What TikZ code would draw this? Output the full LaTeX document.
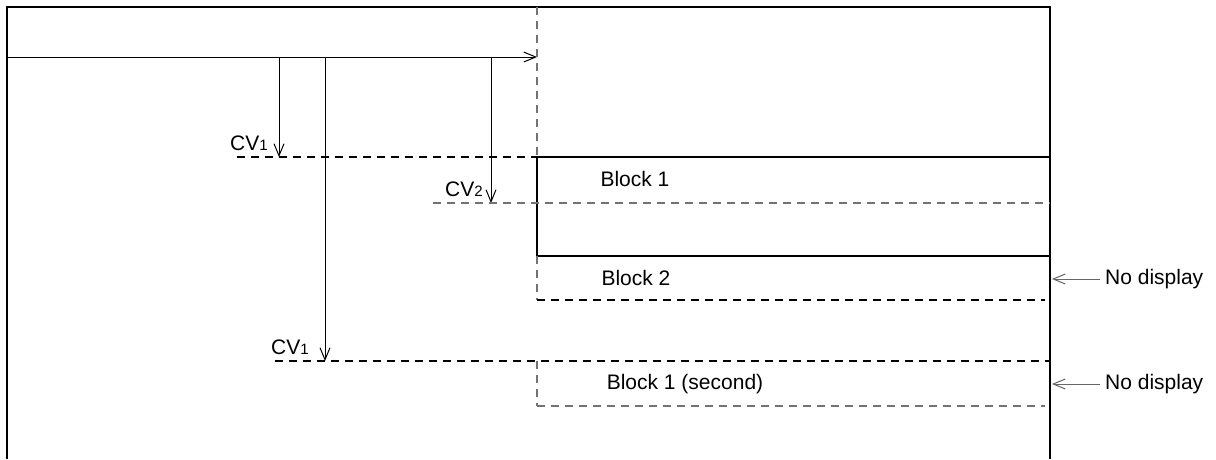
\documentclass[tikz,border=0pt]{standalone}
\usepackage{fontspec}
\setmainfont{Liberation Sans}
\usetikzlibrary{arrows.meta}

\newcommand{\cvsub}[1]{CV{\fontsize{15}{15}\selectfont\raisebox{-0.5pt}{#1}}}

\begin{document}
\begin{tikzpicture}[
            x = 1pt, y = -1pt,
            every node/.style={inner sep=0pt, font=\fontsize{21}{24}\selectfont},
            frame/.style={line width = 2.8pt},
            ptr/.style={line width = 1pt, -{Straight Barb[length=12pt, width=10pt]}},
            dsh/.style={line width = 1.1pt, dash pattern=on 8pt off 6pt},
            dshg/.style={line width = 1.1pt, dash pattern=on 8pt off 6pt, black!55},
            ]

        \useasboundingbox (0,0) rectangle (1216,459);

        % frame
        \coordinate (fbl) at (7,459);
        \coordinate (ftl) at (7,7);
        \coordinate (ftr) at (1050,7);
        \coordinate (fbr) at (1050,459);
        \draw[frame] (fbl) -- (ftl) -- (ftr) -- (fbr);

        % main arrow and split points
        \coordinate (start) at (7,57);
        \coordinate (hit) at (537,57);
        \coordinate (d1) at (279,57);
        \coordinate (d2) at (325,57);
        \coordinate (d3) at (491,57);
        \coordinate (e1) at (279,157);
        \coordinate (e2) at (325,361);
        \coordinate (e3) at (491,203);
        \draw[ptr] (start) -- (hit);
        \draw[ptr] (d1) -- (e1);
        \draw[ptr] (d2) -- (e2);
        \draw[ptr] (d3) -- (e3);

        \coordinate (vtop) at (537,7);
        \coordinate (b1tl) at (537,157);
        \coordinate (b1br) at (1050,256);
        \draw[dshg] (vtop) -- (b1tl);

        % block 1
        \coordinate (l1) at (237,157);
        \draw[dsh] (l1) -- (b1tl);
        \draw[frame] (b1tl) rectangle (b1br);
        \coordinate (l2a) at (433,203);
        \coordinate (l2b) at (1050,203);
        \draw[dshg] (l2a) -- (l2b);

        % block 2
        \coordinate (b2tl) at (537,256);
        \coordinate (b2bl) at (537,300);
        \coordinate (b2br) at (1045,300);
        \draw[dshg] (b2tl) -- (b2bl);
        \draw[dsh] (b2bl) -- (b2br);

        % block 1 (second)
        \coordinate (l3a) at (275,361);
        \coordinate (l3b) at (1050,361);
        \coordinate (b3bl) at (537,406);
        \coordinate (b3br) at (1045,406);
        \draw[dsh] (l3a) -- (l3b);
        \draw[dshg] (537,361) -- (b3bl);
        \draw[dshg] (b3bl) -- (b3br);

        % labels
        \node (cv1) at (249,143) {\cvsub{1}};
        \node (cv2) at (464,189) {\cvsub{2}};
        \node (cv1b) at (290,347) {\cvsub{1}};
        \node (blk1) at (635,179) {Block 1};
        \node (blk2) at (636,278) {Block 2};
        \node (blk3) at (685,384) {Block 1 (second)};
        \node[anchor=west] (nd1) at (1105,279) {No display};
        \node[anchor=west] (nd2) at (1105,384) {No display};

        \coordinate (p1) at (1052,279);
        \coordinate (p2) at (1052,384);
        \draw[ptr, black!60] ([xshift=-5pt]nd1.west) -- (p1);
        \draw[ptr, black!60] ([xshift=-5pt]nd2.west) -- (p2);
    \end{tikzpicture}
\end{document}
